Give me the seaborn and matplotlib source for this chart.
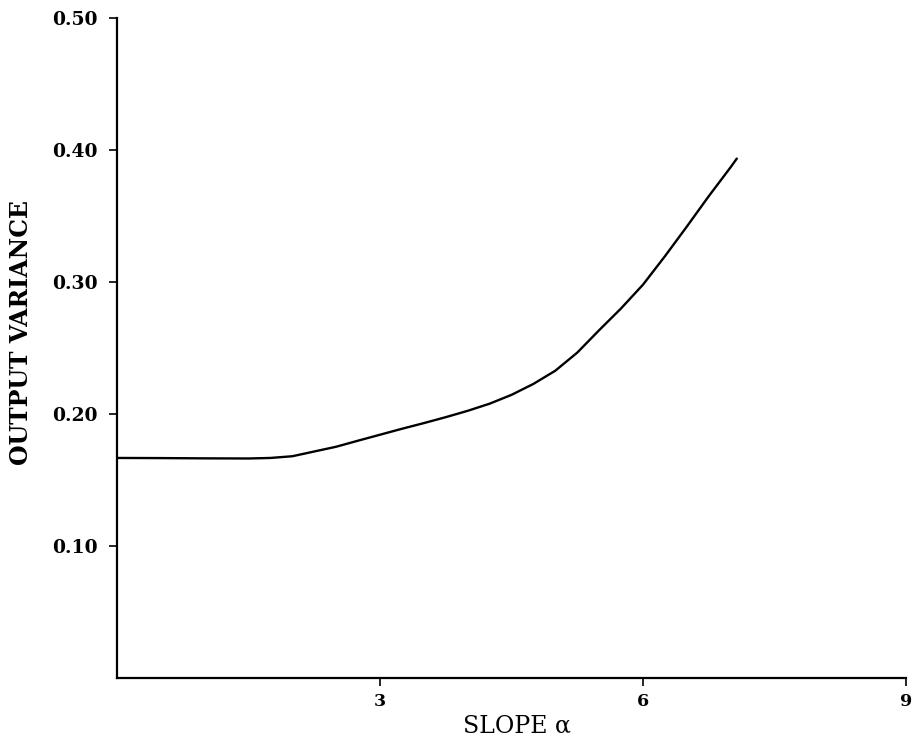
import matplotlib
matplotlib.use("Agg")
import matplotlib.pyplot as plt
import seaborn as sns
import pandas as pd

# Output variance as a function of the slope parameter alpha
slope = [0.0, 0.5, 1.0, 1.5, 1.75, 2.0, 2.25, 2.5, 2.75, 3.0, 3.25, 3.5, 3.75, 4.0,
         4.25, 4.5, 4.75, 5.0, 5.25, 5.5, 5.75, 6.0, 6.25, 6.5, 6.75, 7.0, 7.07]
variance = [0.1667, 0.1666, 0.1664, 0.1663, 0.1667, 0.1680, 0.1716, 0.1752, 0.1798,
            0.1843, 0.1888, 0.1931, 0.1976, 0.2024, 0.2078, 0.2145, 0.2228, 0.2328,
            0.2465, 0.2635, 0.2800, 0.2980, 0.3195, 0.3420, 0.3650, 0.3870, 0.3935]

x_ticks = [3, 6, 9]
x_tick_labels = ["3", "6", "9"]
y_ticks = [0.10, 0.20, 0.30, 0.40, 0.50]
y_tick_labels = ["0.10", "0.20", "0.30", "0.40", "0.50"]

df = pd.DataFrame({"slope": slope, "variance": variance})

sns.set_theme(style="ticks")
plt.rcParams["font.family"] = ["DejaVu Serif"]
plt.rcParams["lines.solid_joinstyle"] = "round"

fig = plt.figure(figsize=(9.16, 7.39), dpi=100)
ax = fig.add_axes([117 / 916, 1 - 678 / 739, (906 - 117) / 916, (678 - 18) / 739])

sns.lineplot(data=df, x="slope", y="variance", ax=ax, color="black", linewidth=1.7)

ax.set_xlim(0, 9)
ax.set_ylim(0, 0.5)
ax.set_xticks(x_ticks)
ax.set_xticklabels(x_tick_labels, fontsize=12.5, fontweight="bold", color="black")
ax.set_yticks(y_ticks)
ax.set_yticklabels(y_tick_labels, fontsize=13.5, fontweight="bold", color="black")
ax.tick_params(axis="both", direction="out", length=6, width=1.2, color="black")
ax.tick_params(axis="y", pad=8)
ax.tick_params(axis="x", pad=5)

for side in ("top", "right"):
    ax.spines[side].set_visible(False)
for side in ("left", "bottom"):
    ax.spines[side].set_color("black")
    ax.spines[side].set_linewidth(1.6)

ax.set_xlabel("SLOPE α", fontsize=17, color="black")
ax.xaxis.set_label_coords(0.507, -0.056)
ax.set_ylabel("OUTPUT VARIANCE", fontsize=17, fontweight="bold", color="black")
ax.yaxis.set_label_coords(-0.106, 0.523)

fig.savefig("out.png", dpi=100, facecolor="white")
